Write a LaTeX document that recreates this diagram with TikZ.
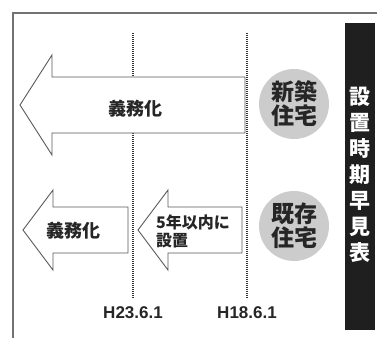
\documentclass[tikz,border=0pt]{standalone}
\usepackage{fontspec}
\newfontfamily\cjk{Noto Sans CJK JP}
\begin{document}
\begin{tikzpicture}[x=1pt,y=-1pt,
  arrowshape/.style={draw=black!65,line width=0.9pt,fill=white,line join=miter},
  dotline/.style={draw=black!80,line width=1.5pt,dash pattern=on 1pt off 1pt},
  lbl/.style={font=\cjk\bfseries\fontsize{18}{20}\selectfont,inner sep=0pt,text=black!85},
  circ/.style={circle,fill=black!20,minimum size=70pt,inner sep=0pt,align=center,
    font=\cjk\bfseries\fontsize{23}{24}\selectfont,text=black!85}]
\useasboundingbox (0,0) rectangle (377,338);
% frame
\draw[black!55,line width=1.6pt] (12,13) -- (377,13);
\draw[black!55,line width=1.6pt] (13,12) -- (13,338);
% side bar
\fill[black!88] (345,23) rectangle (375,330);
\node[font=\cjk\bfseries\fontsize{21}{26}\selectfont,text=white,align=center,inner sep=0pt] (title) at (360,175)
  {設\\置\\時\\期\\早\\見\\表};
% dotted time lines
\coordinate (a1) at (133,33); \coordinate (a2) at (133,298);
\coordinate (b1) at (247,33); \coordinate (b2) at (247,298);
\draw[dotline] (a1) -- (a2);
\draw[dotline] (b1) -- (b2);
\node[font=\fontspec{Liberation Sans}\bfseries\fontsize{17}{19}\selectfont,inner sep=0pt,text=black!85] (h23) at (133,313) {H23.6.1};
\node[font=\fontspec{Liberation Sans}\bfseries\fontsize{17}{19}\selectfont,inner sep=0pt,text=black!85] (h18) at (247,313) {H18.6.1};
% arrows
\draw[arrowshape] (245,77) -- (52,77) -- (52,55) -- (20,105) -- (52,155) -- (52,133) -- (245,133) -- cycle;
\draw[arrowshape] (128,207) -- (53,207) -- (53,190) -- (23,230) -- (53,270) -- (53,253) -- (128,253) -- cycle;
\draw[arrowshape] (242,207) -- (168,207) -- (168,190) -- (138,230) -- (168,270) -- (168,253) -- (242,253) -- cycle;
\node[lbl] (t1) at (135,109) {義務化};
\node[lbl] (t2) at (73,231) {義務化};
\node[lbl,font=\cjk\bfseries\fontsize{16}{18}\selectfont,align=left,anchor=west] (t3) at (156,231) {5年以内に\\設置};
% circles
\node[circ] (c1) at (294,104) {新築\\住宅};
\node[circ] (c2) at (294,226) {既存\\住宅};
\end{tikzpicture}
\end{document}
